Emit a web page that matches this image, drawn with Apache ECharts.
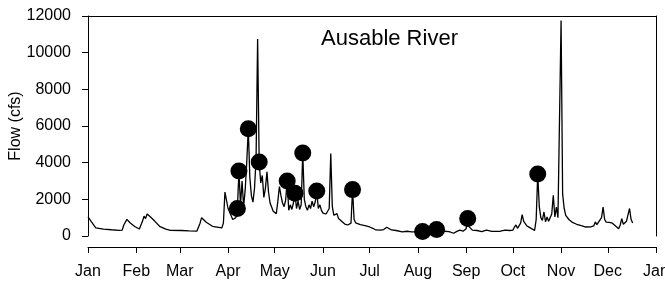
<!DOCTYPE html>
<html>
<head>
<meta charset="utf-8">
<script src="https://cdn.jsdelivr.net/npm/echarts@6/dist/echarts.min.js"></script>
<style>
html,body{margin:0;padding:0;background:#fff;}
#chart{width:665px;height:283px;}
</style>
</head>
<body>
<div id="chart"></div>
<script>
// Day of year (0 = Jan 1) and daily flow (cfs)
var flowDays = [0,2,5,10,15,20,22,23,25,27,30,33,34,35,36,37,38,39,40,43,46,50,53,60,65,70,71,72,73,74,76,80,84,86,87,88,89,90,92,93,94,95,96,97,98,99,100,101,102,103,104,105,106,107,108,109,110,111,112,113,114,115,116,117,118,119,120,121,122,123,124,125,126,127,128,129,130,131,132,133,134,135,136,137,138,139,140,141,142,143,144,145,146,147,148,149,150,151,152,153,154,155,156,157,158,159,160,161,162,163,164,165,166,167,168,169,170,171,172,173,175,178,181,183,185,188,190,192,193,195,198,202,205,208,210,213,215,218,221,224,226,229,232,235,237,239,241,243,244,245,247,250,253,256,259,262,265,268,271,273,274,275,276,277,278,279,280,282,285,287,288,289,290,291,292,293,294,295,296,297,298,299,300,301,302,303,304,305,306,307,309,311,314,317,320,323,325,326,327,328,330,331,332,333,335,337,339,341,342,343,344,346,348,349,350];
var flowValues = [1050,800,440,380,340,310,320,600,910,720,520,380,400,800,1080,950,1200,1210,1050,800,530,380,310,300,280,270,300,700,1000,1050,750,530,470,440,700,2400,2300,1500,1100,900,850,1000,1500,3550,1700,3000,1600,2500,4000,5850,3200,2200,1850,2600,4200,10750,4040,2900,3300,2100,2600,3500,2400,1800,1580,1350,1300,1220,1900,2700,2200,1800,1600,1950,3000,1400,1700,1450,1800,2330,1500,1900,1450,1700,4530,2000,1600,1400,1700,1500,1900,1600,1850,2450,1500,1700,1400,1250,1150,1200,1130,1500,4500,1600,1130,1100,1220,950,850,800,710,650,620,600,584,700,2530,900,720,700,620,560,492,420,330,320,350,480,420,330,300,220,260,230,220,190,250,170,200,350,200,260,240,150,250,320,260,400,950,500,320,300,240,320,260,250,260,320,300,320,480,600,420,360,700,1170,800,550,400,310,900,3380,1600,1000,850,1310,780,1040,800,700,1200,2220,1040,1580,1000,1100,11750,2300,1500,1130,900,760,640,560,490,500,550,770,620,600,1000,1580,900,760,740,700,550,400,600,950,640,800,1500,900,710];

// Sampled points (circles)
var sampleDays = [96,97,103,110,128,133,138,147,170,215,224,244,289];
var sampleValues = [1500,3550,5850,4040,3000,2330,4530,2450,2530,250,350,950,3380];

// Axis ticks
var monthStarts = [0,31,59,90,120,151,181,212,243,273,304,334,365];
var monthLabels = ['Jan','Feb','Mar','Apr','May','Jun','Jul','Aug','Sep','Oct','Nov','Dec','Jan'];
var yTicks = [0,2000,4000,6000,8000,10000,12000];

var titleText = 'Ausable River';
var yName = 'Flow (cfs)';

var dayCategories = [];
for (var k = 0; k <= 365; k++) dayCategories.push(String(k));
var flowData = flowDays.map(function(d,i){return [d, flowValues[i]];});
var sampleData = sampleDays.map(function(d,i){return [d, sampleValues[i]];});
function isMonthStart(idx){ return monthStarts.indexOf(idx) >= 0; }

var FONT = 'Liberation Sans, Arial, sans-serif';
var chart = echarts.init(document.getElementById('chart'));
chart.setOption({
  animation: false,
  backgroundColor: '#fff',
  title: {
    text: titleText, left: 316, top: 23,
    textStyle: {fontFamily: FONT, fontSize: 22, fontWeight: 'normal', color: '#000'}
  },
  grid: [
    {left: 88, right: 9, top: 16, bottom: 47, containLabel: false, outerBoundsMode: 'none'},
    {left: 88, right: 9, top: 237, bottom: 36, containLabel: false, outerBoundsMode: 'none'}
  ],
  xAxis: [{
    // plot axis (top edge of the frame)
    gridIndex: 0, type: 'value', min: 0, max: 365, position: 'top',
    axisLine: {show: true, onZero: false, lineStyle: {color: '#000', width: 1}},
    axisTick: {show: false}, axisLabel: {show: false}, splitLine: {show: false}
  }, {
    // detached month axis below the plot
    gridIndex: 1, type: 'category', data: dayCategories, boundaryGap: false, position: 'bottom',
    axisLine: {show: true, onZero: false, lineStyle: {color: '#000', width: 1}},
    axisTick: {show: true, length: 6, interval: function(idx){ return isMonthStart(idx); }, lineStyle: {color: '#000', width: 1}},
    axisLabel: {
      interval: function(idx){ return isMonthStart(idx); }, margin: 17, color: '#000', fontFamily: FONT, fontSize: 16,
      formatter: function(v){ var i = monthStarts.indexOf(Number(v)); return i >= 0 ? monthLabels[i] : ''; }
    },
    splitLine: {show: false}
  }],
  yAxis: [{
    gridIndex: 0, type: 'value', min: 0, max: 12000, interval: 2000, position: 'left',
    name: yName, nameLocation: 'middle', nameGap: 64, nameRotate: 90, nameMoveOverlap: false,
    nameTextStyle: {fontFamily: FONT, fontSize: 16, color: '#000'},
    axisLine: {show: true, onZero: false, lineStyle: {color: '#000', width: 1}},
    axisTick: {show: true, length: 6, lineStyle: {color: '#000'}},
    axisLabel: {margin: 17, color: '#000', fontFamily: FONT, fontSize: 16,
      formatter: function(v){ return String(v); }},
    splitLine: {show: false}
  }, {
    gridIndex: 0, type: 'value', min: 0, max: 12000, position: 'right',
    axisLine: {show: true, onZero: false, lineStyle: {color: '#000', width: 1}},
    axisTick: {show: false}, axisLabel: {show: false}, splitLine: {show: false}
  }, {
    gridIndex: 1, type: 'value', min: 0, max: 1, show: false
  }],
  series: [{
    type: 'line', xAxisIndex: 0, yAxisIndex: 0, data: flowData, showSymbol: false, symbol: 'none',
    lineStyle: {color: '#000', width: 1.3}, z: 2
  }, {
    type: 'scatter', xAxisIndex: 0, yAxisIndex: 0, data: sampleData, symbol: 'circle', symbolSize: 17,
    itemStyle: {color: '#000', opacity: 1}, z: 3
  }]
});
</script>
</body>
</html>
